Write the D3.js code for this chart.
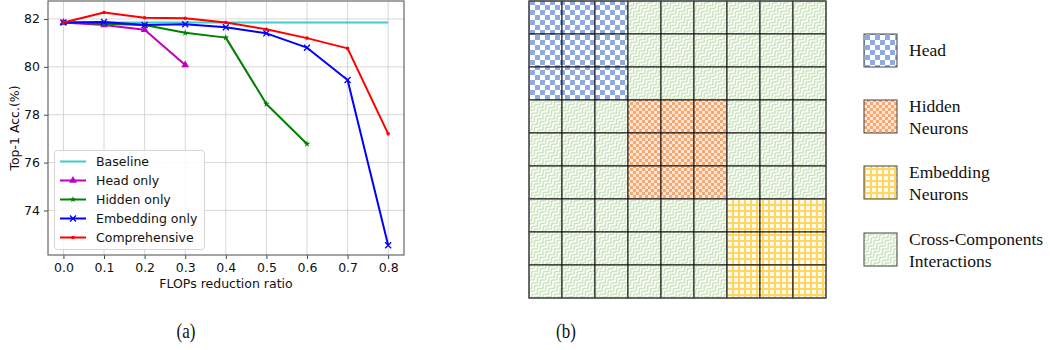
<!DOCTYPE html>
<html><head><meta charset="utf-8">
<script src="https://cdn.jsdelivr.net/npm/d3@7"></script>
<style>body{margin:0;background:#fff}svg{display:block}</style>
</head><body><svg id="c" width="1050" height="350"></svg>
<script>
// ---- data (panel a) ----
const ratios = [0.0,0.1,0.2,0.3,0.4,0.5,0.6,0.7,0.8];
const baseline = [81.85,81.85,81.85,81.85,81.85,81.85,81.85,81.85,81.85];
const headOnly = [81.85,81.75,81.55,80.08];
const hiddenOnly = [81.85,81.80,81.75,81.42,81.22,78.45,76.78];
const embeddingOnly = [81.85,81.87,81.75,81.78,81.65,81.40,80.80,79.45,72.55];
const comprehensive = [81.85,82.27,82.05,82.03,81.85,81.57,81.20,80.77,77.20];
const seriesNames = ["Baseline","Head only","Hidden only","Embedding only","Comprehensive"];
const xTicks = [0.0,0.1,0.2,0.3,0.4,0.5,0.6,0.7,0.8];
const yTicks = [74,76,78,80,82];
// ---- data (panel b) ----
const blockOfIndex = [0,0,0,1,1,1,2,2,2];
const componentNames = ["Head","Hidden\nNeurons","Embedding\nNeurons","Cross-Components\nInteractions"];

const svg = d3.select("#c");
const defs = svg.append("defs");

// ---------- Panel (a) ----------
const x = d3.scaleLinear().domain([-0.038,0.839]).range([48,404]);
const y = d3.scaleLinear().domain([72.14,82.75]).range([255,1]);
const g = svg.append("g");
const font = "DejaVu Sans, sans-serif";

g.append("g").selectAll("line").data(xTicks).join("line")
  .attr("x1",d=>x(d)).attr("x2",d=>x(d)).attr("y1",y.range()[1]).attr("y2",y.range()[0])
  .attr("stroke","#d2d2d2").attr("stroke-width",0.9);
g.append("g").selectAll("line").data(yTicks).join("line")
  .attr("y1",d=>y(d)).attr("y2",d=>y(d)).attr("x1",x.range()[0]).attr("x2",x.range()[1])
  .attr("stroke","#d2d2d2").attr("stroke-width",0.9);

const xAxis = g.append("g").attr("transform",`translate(0,${y.range()[0]})`)
  .call(d3.axisBottom(x).tickValues(xTicks).tickFormat(d3.format(".1f")).tickSize(4).tickPadding(4));
const yAxis = g.append("g").attr("transform",`translate(${x.range()[0]},0)`)
  .call(d3.axisLeft(y).tickValues(yTicks).tickFormat(d3.format("d")).tickSize(4).tickPadding(4));
[xAxis,yAxis].forEach(a=>{
  a.select(".domain").remove();
  a.selectAll("line").attr("stroke","#444");
  a.selectAll("text").attr("font-family",font).attr("font-size",12.5).attr("fill","#111");
});
g.append("rect").attr("x",x.range()[0]).attr("y",y.range()[1])
  .attr("width",x.range()[1]-x.range()[0]).attr("height",y.range()[0]-y.range()[1])
  .attr("fill","none").attr("stroke","#666").attr("stroke-width",1.2);

g.append("text").attr("x",226).attr("y",288).attr("text-anchor","middle")
  .attr("font-family",font).attr("font-size",12.5).attr("fill","#111").text("FLOPs reduction ratio");
g.append("text").attr("transform","translate(19,128) rotate(-90)").attr("text-anchor","middle")
  .attr("font-family",font).attr("font-size",12.5).attr("fill","#111").text("Top-1 Acc.(%)");

const series = [
  {name:seriesNames[0], vals:baseline, color:"#40cccc", marker:"none"},
  {name:seriesNames[1], vals:headOnly, color:"#bf00bf", marker:"tri"},
  {name:seriesNames[2], vals:hiddenOnly, color:"#008000", marker:"star"},
  {name:seriesNames[3], vals:embeddingOnly, color:"#0000ff", marker:"x"},
  {name:seriesNames[4], vals:comprehensive, color:"#ff0000", marker:"dot"}
];
const line = d3.line().x((d,i)=>x(ratios[i])).y(d=>y(d));
function drawMarker(sel, type, color){
  if(type==="tri") sel.append("path").attr("d",d3.symbol(d3.symbolTriangle,26)()).attr("fill",color);
  else if(type==="star") sel.append("path").attr("d",d3.symbol(d3.symbolStar,14)()).attr("fill",color);
  else if(type==="x") sel.append("path").attr("d","M-3,-3L3,3M-3,3L3,-3").attr("stroke",color).attr("stroke-width",1.3).attr("fill","none");
  else if(type==="dot") sel.append("circle").attr("r",1.8).attr("fill",color);
}
series.forEach(s=>{
  g.append("path").datum(s.vals).attr("d",line).attr("fill","none")
   .attr("stroke",s.color).attr("stroke-width",2).attr("stroke-linejoin","round");
  if(s.marker!=="none"){
    s.vals.forEach((v,i)=>{
      const m = g.append("g").attr("transform",`translate(${x(ratios[i])},${y(v)})`);
      drawMarker(m,s.marker,s.color);
    });
  }
});
const lg = g.append("g");
lg.append("rect").attr("x",54.5).attr("y",150.5).attr("width",150).attr("height",99).attr("rx",3)
  .attr("fill","rgba(255,255,255,0.85)").attr("stroke","#d5d5d5");
series.forEach((s,i)=>{
  const yy = 161.5 + i*19;
  lg.append("line").attr("x1",60).attr("x2",86).attr("y1",yy).attr("y2",yy)
    .attr("stroke",s.color).attr("stroke-width",2);
  if(s.marker!=="none"){ const m = lg.append("g").attr("transform",`translate(73,${yy})`); drawMarker(m,s.marker,s.color);}
  lg.append("text").attr("x",96).attr("y",yy+4.5).attr("font-family",font).attr("font-size",12.5)
    .attr("fill","#111").text(s.name);
});

// ---------- Panel (b) ----------
const pBlue = defs.append("pattern").attr("id","pHead").attr("patternUnits","userSpaceOnUse").attr("width",10).attr("height",10);
pBlue.append("rect").attr("width",10).attr("height",10).attr("fill","#fff");
pBlue.append("rect").attr("width",5).attr("height",5).attr("fill","#8eaadf");
pBlue.append("rect").attr("x",5).attr("y",5).attr("width",5).attr("height",5).attr("fill","#8eaadf");

const pOr = defs.append("pattern").attr("id","pHidden").attr("patternUnits","userSpaceOnUse").attr("width",6).attr("height",6);
pOr.append("rect").attr("width",6).attr("height",6).attr("fill","#fde6d6");
pOr.append("rect").attr("width",3).attr("height",3).attr("fill","#f5a872");
pOr.append("rect").attr("x",3).attr("y",3).attr("width",3).attr("height",3).attr("fill","#f5a872");

const pYe = defs.append("pattern").attr("id","pEmb").attr("patternUnits","userSpaceOnUse").attr("width",6).attr("height",6);
pYe.append("rect").attr("width",6).attr("height",6).attr("fill","#fffbf0");
pYe.append("rect").attr("x",0).attr("width",2).attr("height",6).attr("fill","#ffd660");
pYe.append("rect").attr("y",0).attr("width",6).attr("height",2).attr("fill","#ffd660");

const pGr = defs.append("pattern").attr("id","pCross").attr("patternUnits","userSpaceOnUse")
  .attr("width",8).attr("height",8).attr("patternTransform","rotate(45)");
pGr.append("rect").attr("width",8).attr("height",8).attr("fill","#fff");
pGr.append("path").attr("d","M0,0 L4,4 L0,8 M4,0 L8,4 L4,8")
  .attr("stroke","#bcdcaa").attr("stroke-width",1.2).attr("fill","none");

const fills = ["url(#pHead)","url(#pHidden)","url(#pEmb)","url(#pCross)"];
const gx = d3.scaleBand().domain(d3.range(blockOfIndex.length)).range([529,826]);
const gy = d3.scaleBand().domain(d3.range(blockOfIndex.length)).range([1,298]);
const cells = [];
blockOfIndex.forEach((br,r)=>blockOfIndex.forEach((bc,c)=>cells.push({r,c,t: br===bc?br:3})));
const gb = svg.append("g");
gb.selectAll("rect.cell").data(cells).join("rect").attr("class","cell")
  .attr("x",d=>gx(d.c)).attr("y",d=>gy(d.r)).attr("width",gx.bandwidth()).attr("height",gy.bandwidth())
  .attr("fill",d=>fills[d.t]).attr("stroke","#111").attr("stroke-width",1);
gb.append("rect").attr("x",529).attr("y",1).attr("width",297).attr("height",297)
  .attr("fill","none").attr("stroke","#555").attr("stroke-width",1.2);

const legY = [34,100,166,233];
const serif = "Liberation Serif, Times New Roman, serif";
componentNames.forEach((nm,i)=>{
  svg.append("rect").attr("x",864).attr("y",legY[i]).attr("width",33).attr("height",33)
    .attr("fill",fills[i]).attr("stroke","#444").attr("stroke-width",1);
  const lines = nm.split("\n");
  const t = svg.append("text").attr("font-family",serif).attr("font-size",17.5).attr("fill","#111");
  if(lines.length===1){
    t.append("tspan").attr("x",909).attr("y",legY[i]+22).text(lines[0]);
  } else {
    lines.forEach((ln,j)=>t.append("tspan").attr("x",909).attr("y",legY[i]+12+j*22).text(ln));
  }
});

svg.append("text").attr("transform","translate(186,338) scale(0.85,1)").attr("text-anchor","middle")
  .attr("font-family",serif).attr("font-size",20).attr("fill","#111").text("(a)");
svg.append("text").attr("transform","translate(566,338) scale(0.85,1)").attr("text-anchor","middle")
  .attr("font-family",serif).attr("font-size",20).attr("fill","#111").text("(b)");
</script></body></html>
